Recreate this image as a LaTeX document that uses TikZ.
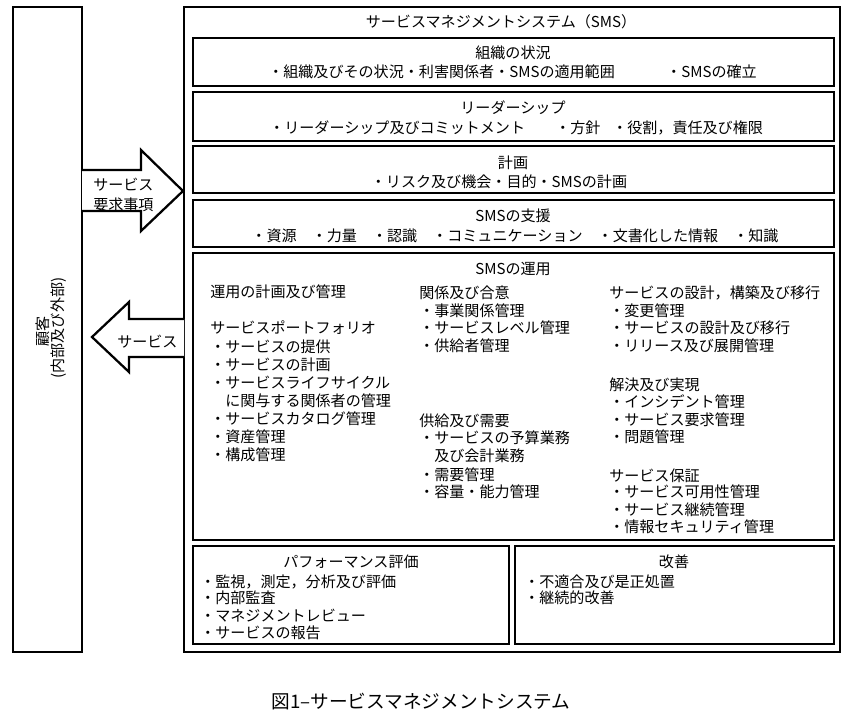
\documentclass[tikz,border=0pt]{standalone}
\usepackage{fontspec}
\setmainfont{Noto Sans CJK JP}
\begin{document}
\begin{tikzpicture}[x=0.75pt,y=-0.75pt,
  frame/.style={draw=black,line width=1.7pt,fill=white,inner sep=0pt,outer sep=0pt,anchor=north west},
  txt/.style={inner sep=0pt,text height=0.88em,text depth=0.12em,font=\fontsize{11.3pt}{13pt}\selectfont},
  lt/.style={txt,anchor=west},
  blockarrow/.style={draw=black,line width=1.7pt,fill=white,line join=miter}]
\useasboundingbox (0,0) rectangle (853,715);
% frames
\node[frame,minimum width=69*0.75pt,minimum height=645*0.75pt] (cust) at (13,7) {};
\node[frame,minimum width=656*0.75pt,minimum height=645*0.75pt] (sms) at (184,7) {};
\node[frame,minimum width=641*0.75pt,minimum height=48*0.75pt] (b1) at (193,38) {};
\node[frame,minimum width=641*0.75pt,minimum height=49*0.75pt] (b2) at (193,92) {};
\node[frame,minimum width=641*0.75pt,minimum height=47*0.75pt] (b3) at (193,146) {};
\node[frame,minimum width=641*0.75pt,minimum height=47*0.75pt] (b4) at (193,200) {};
\node[frame,minimum width=641*0.75pt,minimum height=287*0.75pt] (b5) at (193,253) {};
\node[frame,minimum width=316*0.75pt,minimum height=98*0.75pt] (b6) at (193,546) {};
\node[frame,minimum width=319*0.75pt,minimum height=98*0.75pt] (b7) at (515,546) {};
% block arrows
\draw[blockarrow] (82,170) -- (141,170) -- (141,150) -- (183,191) -- (141,231) -- (141,211) -- (82,211);
\draw[blockarrow] (184,319) -- (129,319) -- (129,302) -- (92,337) -- (129,372) -- (129,357) -- (184,357);
\node[lt] (ra1) at (93,185) {サービス};
\node[lt] (ra2) at (93,205) {要求事項};
\node[lt] (la1) at (117,342) {サービス};
% customer
\node[txt,rotate=90] (c1) at (43,331) {顧客};
\node[txt,rotate=90] (c2) at (58,328) {(内部及び外部)};
% SMS title
\node[txt] (smst) at (501,22) {サービスマネジメントシステム（SMS）};
% box 1
\node[txt] (t1) at (513,53) {組織の状況};
\node[lt] (t1a) at (268,72) {・組織及びその状況・利害関係者・SMSの適用範囲};
\node[lt] (t1b) at (666,72) {・SMSの確立};
% box 2
\node[txt] (t2) at (513,108) {リーダーシップ};
\node[lt] (t2a) at (269,128) {・リーダーシップ及びコミットメント};
\node[lt] (t2b) at (555,128) {・方針};
\node[lt] (t2c) at (612,128) {・役割，責任及び権限};
% box 3
\node[txt] (t3) at (513,163) {計画};
\node[txt] (t3a) at (499,182) {・リスク及び機会・目的・SMSの計画};
% box 4
\node[txt] (t4) at (513,216) {SMSの支援};
\node[txt] (t4a) at (515,236) {・資源　・力量　・認識　・コミュニケーション　・文書化した情報　・知識};
% box 5
\node[txt] (t5) at (513,269) {SMSの運用};
% column 1
\node[lt] (k1) at (210,292) {運用の計画及び管理};
\node[lt] (k2) at (210,328) {サービスポートフォリオ};
\node[lt] (k3) at (210,347) {・サービスの提供};
\node[lt] (k4) at (210,365) {・サービスの計画};
\node[lt] (k5) at (210,383) {・サービスライフサイクル};
\node[lt] (k6) at (225,401) {に関与する関係者の管理};
\node[lt] (k7) at (210,419) {・サービスカタログ管理};
\node[lt] (k8) at (210,437) {・資産管理};
\node[lt] (k9) at (210,455) {・構成管理};
% column 2
\node[lt] (m1) at (419,293) {関係及び合意};
\node[lt] (m2) at (419,311) {・事業関係管理};
\node[lt] (m3) at (419,328) {・サービスレベル管理};
\node[lt] (m4) at (419,346) {・供給者管理};
\node[lt] (m5) at (419,421) {供給及び需要};
\node[lt] (m6) at (419,438) {・サービスの予算業務};
\node[lt] (m7) at (434,456) {及び会計業務};
\node[lt] (m8) at (419,475) {・需要管理};
\node[lt] (m9) at (419,492) {・容量・能力管理};
% column 3
\node[lt] (r1) at (609,293) {サービスの設計，構築及び移行};
\node[lt] (r2) at (609,311) {・変更管理};
\node[lt] (r3) at (609,328) {・サービスの設計及び移行};
\node[lt] (r4) at (609,346) {・リリース及び展開管理};
\node[lt] (r5) at (609,385) {解決及び実現};
\node[lt] (r6) at (609,402) {・インシデント管理};
\node[lt] (r7) at (609,420) {・サービス要求管理};
\node[lt] (r8) at (609,437) {・問題管理};
\node[lt] (r9) at (609,476) {サービス保証};
\node[lt] (r10) at (609,492) {・サービス可用性管理};
\node[lt] (r11) at (609,510) {・サービス継続管理};
\node[lt] (r12) at (609,527) {・情報セキュリティ管理};
% box 6
\node[txt] (t6) at (351,562) {パフォーマンス評価};
\node[lt] (p1) at (200,582) {・監視，測定，分析及び評価};
\node[lt] (p2) at (200,598) {・内部監査};
\node[lt] (p3) at (200,616) {・マネジメントレビュー};
\node[lt] (p4) at (200,633) {・サービスの報告};
% box 7
\node[txt] (t7) at (674,562) {改善};
\node[lt] (q1) at (524,582) {・不適合及び是正処置};
\node[lt] (q2) at (524,598) {・継続的改善};
% caption
\node[txt,font=\fontsize{14pt}{16pt}\selectfont] (cap) at (421,703) {図1–サービスマネジメントシステム};
\end{tikzpicture}
\end{document}
